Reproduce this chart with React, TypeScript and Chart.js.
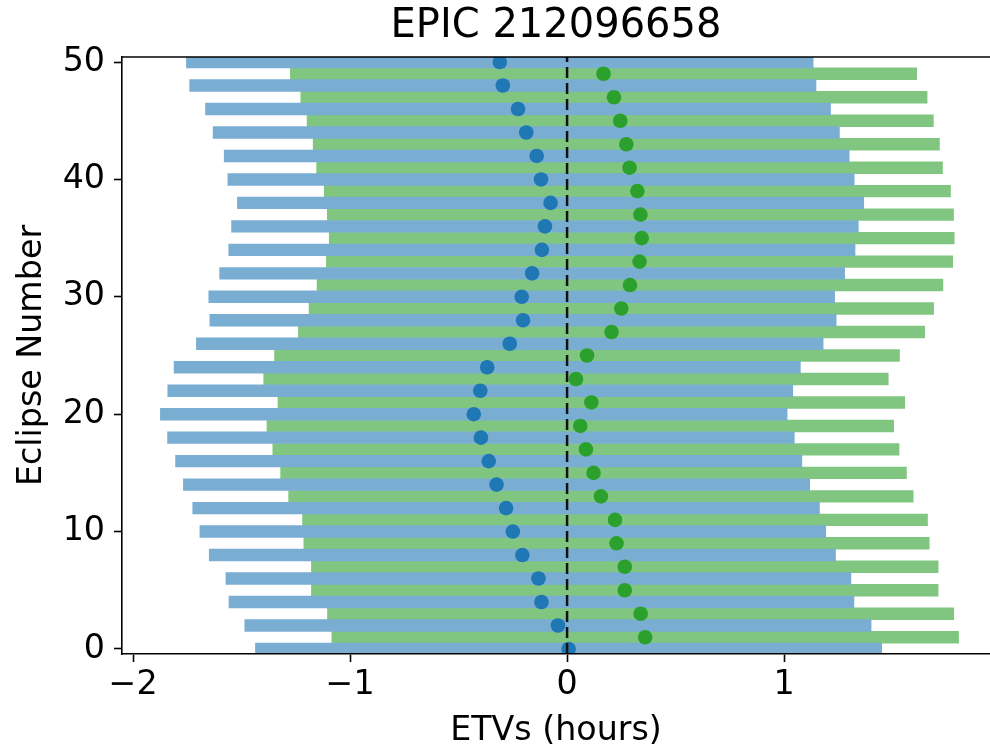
import { useEffect, useRef } from "react";
import { Chart, registerables } from "chart.js";

Chart.register(...registerables);

// ---- text ----
const chartTitle = "EPIC 212096658";
const xAxisTitle = "ETVs (hours)";
const yAxisTitle = "Eclipse Number";

// ---- data ----
// primary eclipses (blue), even eclipse numbers
const blueEpochs = [0, 2, 4, 6, 8, 10, 12, 14, 16, 18, 20, 22, 24, 26, 28, 30, 32, 34, 36, 38, 40, 42, 44, 46, 48, 50];
const blueETVs = [0.007, -0.042, -0.118, -0.132, -0.206, -0.25, -0.281, -0.325, -0.361, -0.397, -0.43, -0.4, -0.368, -0.264, -0.203, -0.209, -0.161, -0.116, -0.102, -0.076, -0.12, -0.14, -0.188, -0.226, -0.296, -0.31];
const blueErrors = [1.443, 1.443, 1.44, 1.44, 1.443, 1.442, 1.444, 1.443, 1.443, 1.444, 1.444, 1.44, 1.443, 1.444, 1.443, 1.442, 1.44, 1.443, 1.444, 1.443, 1.443, 1.44, 1.443, 1.44, 1.443, 1.444];

// secondary eclipses (green), odd eclipse numbers
const greenEpochs = [1, 3, 5, 7, 9, 11, 13, 15, 17, 19, 21, 23, 25, 27, 29, 31, 33, 35, 37, 39, 41, 43, 45, 47, 49];
const greenETVs = [0.36, 0.339, 0.266, 0.266, 0.228, 0.221, 0.156, 0.122, 0.087, 0.061, 0.112, 0.041, 0.092, 0.205, 0.25, 0.29, 0.334, 0.344, 0.338, 0.324, 0.288, 0.273, 0.245, 0.216, 0.168];
const greenErrors = [1.444, 1.443, 1.444, 1.444, 1.441, 1.44, 1.439, 1.442, 1.443, 1.444, 1.444, 1.439, 1.44, 1.443, 1.439, 1.442, 1.443, 1.44, 1.443, 1.443, 1.442, 1.443, 1.443, 1.443, 1.443];

// ---- ticks ----
const xTickValues = [-2, -1, 0, 1];
const xTickLabels = ["\u22122", "\u22121", "0", "1"];
const yTickValues = [0, 10, 20, 30, 40, 50];
const yTickLabels = ["0", "10", "20", "30", "40", "50"];

const referenceETV = 0;

// ---- view ----
const X_MIN = -2.051;
const X_MAX = 1.949;
const Y_MIN = -0.43;
const Y_MAX = 50.43;

const FONT = "'DejaVu Sans', 'Liberation Sans', sans-serif";

const framePlugin = {
  id: "frameAndReference",
  afterDatasetsDraw(chart: any) {
    const { ctx, chartArea } = chart;
    const { left, right, top, bottom } = chartArea;
    const px = chart.scales.x.getPixelForValue(referenceETV);
    ctx.save();
    ctx.beginPath();
    ctx.rect(left, top, right - left, bottom - top);
    ctx.clip();
    ctx.strokeStyle = "#111";
    ctx.lineWidth = 2.5;
    ctx.setLineDash([11, 5]);
    ctx.beginPath();
    ctx.moveTo(px, bottom);
    ctx.lineTo(px, top);
    ctx.stroke();
    ctx.restore();

    ctx.save();
    ctx.strokeStyle = "#000";
    ctx.lineWidth = 1.6;
    ctx.beginPath();
    ctx.moveTo(left - 0.8, top);
    ctx.lineTo(right, top);
    ctx.stroke();
    ctx.restore();
  },
};

export default function App() {
  const ref = useRef<HTMLCanvasElement>(null);

  useEffect(() => {
    const canvas = ref.current;
    if (!canvas) return;
    Chart.defaults.font.family = FONT;
    Chart.defaults.color = "#000";

    const chart = new Chart(canvas, {
      type: "scatter",
      data: {
        datasets: [
          {
            type: "scatter",
            label: "primary",
            data: blueEpochs.map((n, i) => ({ x: blueETVs[i], y: n })),
            backgroundColor: "#1f77b4",
            borderWidth: 0,
            pointRadius: 7.3,
            pointHoverRadius: 7.3,
            order: 1,
            clip: 0,
          },
          {
            type: "scatter",
            label: "secondary",
            data: greenEpochs.map((n, i) => ({ x: greenETVs[i], y: n })),
            backgroundColor: "#2ca02c",
            borderWidth: 0,
            pointRadius: 7.3,
            pointHoverRadius: 7.3,
            order: 1,
            clip: 0,
          },
          {
            type: "bar",
            label: "primary error",
            indexAxis: "y",
            data: blueEpochs.map((n, i) => ({
              y: n,
              x: [blueETVs[i] - blueErrors[i], blueETVs[i] + blueErrors[i]],
            })),
            backgroundColor: "#79add2",
            borderWidth: 0,
            grouped: false,
            barPercentage: 1,
            categoryPercentage: 1,
            order: 2,
          },
          {
            type: "bar",
            label: "secondary error",
            indexAxis: "y",
            data: greenEpochs.map((n, i) => ({
              y: n,
              x: [greenETVs[i] - greenErrors[i], greenETVs[i] + greenErrors[i]],
            })),
            backgroundColor: "#80c680",
            borderWidth: 0,
            grouped: false,
            barPercentage: 1,
            categoryPercentage: 1,
            order: 2,
          },
        ] as any,
      },
      options: {
        animation: false,
        responsive: false,
        devicePixelRatio: 1,
        events: [],
        layout: { padding: 0, autoPadding: false },
        plugins: {
          legend: { display: false },
          tooltip: { enabled: false },
          title: {
            display: true,
            text: chartTitle,
            color: "#000",
            fullSize: false,
            align: "center",
            font: { family: FONT, size: 40, weight: "normal", lineHeight: 1.2 },
            padding: { top: 3, bottom: 6 },
          },
        },
        scales: {
          x: {
            type: "linear",
            min: X_MIN,
            max: X_MAX,
            offset: false,
            afterBuildTicks: (s: any) => {
              s.ticks = xTickValues.map((v) => ({ value: v }));
            },
            afterFit: (s: any) => {
              s.height = 96;
            },
            ticks: {
              callback: (_v: any, i: number) => xTickLabels[i],
              font: { family: FONT, size: 33.3 },
              color: "#000",
              padding: 3,
              maxRotation: 0,
              autoSkip: false,
            },
            grid: {
              display: true,
              drawOnChartArea: false,
              drawTicks: true,
              tickLength: 8,
              tickWidth: 1.6,
              tickColor: "#000",
              offset: false,
            },
            border: { display: true, color: "#000", width: 1.6, z: 1 },
            title: {
              display: true,
              text: xAxisTitle,
              color: "#000",
              font: { family: FONT, size: 33.3, lineHeight: 1 },
              padding: { top: 0, bottom: 2 },
            },
          },
          y: {
            type: "linear",
            min: Y_MIN,
            max: Y_MAX,
            offset: false,
            afterBuildTicks: (s: any) => {
              s.ticks = yTickValues.map((v) => ({ value: v }));
            },
            afterFit: (s: any) => {
              s.width = 122;
            },
            ticks: {
              callback: (_v: any, i: number) => yTickLabels[i],
              font: { family: FONT, size: 33.3 },
              color: "#000",
              padding: 9,
              autoSkip: false,
            },
            grid: {
              display: true,
              drawOnChartArea: false,
              drawTicks: true,
              tickLength: 8,
              tickWidth: 1.6,
              tickColor: "#000",
              offset: false,
            },
            border: { display: true, color: "#000", width: 1.6, z: 1 },
            title: {
              display: true,
              text: yAxisTitle,
              color: "#000",
              font: { family: FONT, size: 33.3, lineHeight: 1 },
              padding: { top: 16, bottom: 0 },
            },
          },
        },
      } as any,
      plugins: [framePlugin],
    });

    return () => chart.destroy();
  }, []);

  return (
    <div style={{ position: "absolute", left: 0, top: 0, width: 990, height: 750, background: "#fff" }}>
      <canvas ref={ref} width={990} height={750} style={{ display: "block" }} />
    </div>
  );
}
